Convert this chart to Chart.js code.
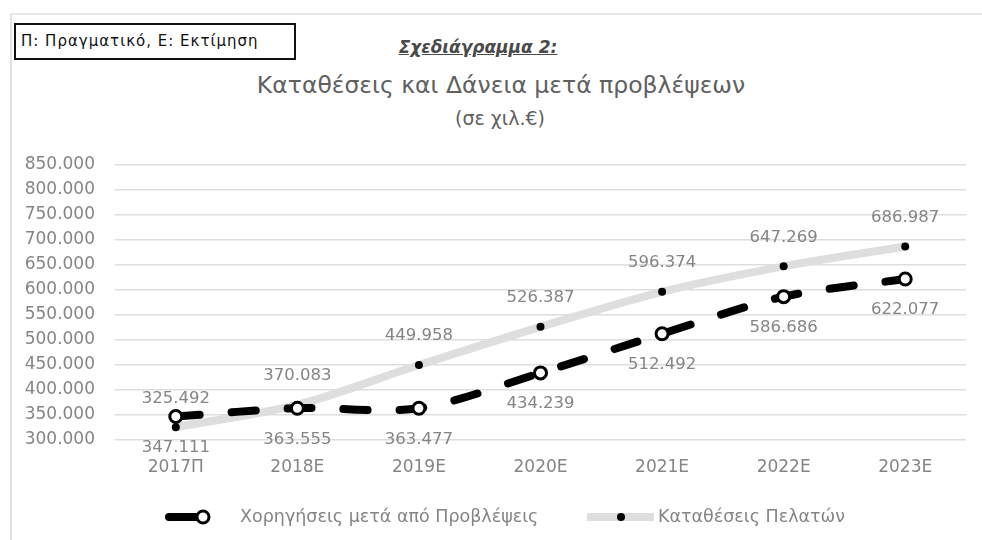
<!DOCTYPE html>
<html lang="el">
<head>
<meta charset="utf-8">
<script src="https://cdn.jsdelivr.net/npm/chart.js@4.4.1/dist/chart.umd.min.js"></script>
<style>
  html, body { margin: 0; padding: 0; background: #fff; }
  body { width: 982px; height: 540px; position: relative; overflow: hidden; font-family: "DejaVu Sans", sans-serif; }
  #frame { position: absolute; left: 10px; top: 13px; width: 1000px; height: 560px;
           border-left: 2px solid #e2e2e2; border-top: 2px solid #e8e8e8; }
  #note { position: absolute; left: 14px; top: 23px; width: 282px; height: 37px; box-sizing: border-box;
          border: 2.5px solid #111; font-size: 15px; letter-spacing: 1px; line-height: 32px;
          padding-left: 5px; color: #111; white-space: nowrap; }
  .title { position: absolute; white-space: nowrap; transform: translate(-50%, -50%); }
  #t1 { left: 478px; top: 47px; font-size: 17px; font-weight: bold; font-style: italic;
        text-decoration: underline; color: #4a4a4a; }
  #t2 { left: 501px; top: 85px; font-size: 23.5px; color: #606060; }
  #t3 { left: 500px; top: 118px; font-size: 19px; color: #606060; }
  canvas { position: absolute; left: 0; top: 0; }
</style>
</head>
<body>
<div id="frame"></div>
<div id="note">Π: Πραγματικό, Ε: Εκτίμηση</div>
<div class="title" id="t1">Σχεδιάγραμμα 2:</div>
<div class="title" id="t2">Καταθέσεις και Δάνεια μετά προβλέψεων</div>
<div class="title" id="t3">(σε χιλ.€)</div>
<canvas id="chart" width="982" height="540"></canvas>
<script>
// Έτη (Π: πραγματικό, Ε: εκτίμηση)
const years = ['2017Π', '2018Ε', '2019Ε', '2020Ε', '2021Ε', '2022Ε', '2023Ε'];

// Ποσά σε χιλ. €
const loansAfterProvisions = [347111, 363555, 363477, 434239, 512492, 586686, 622077];
const customerDeposits = [325492, 370083, 449958, 526387, 596374, 647269, 686987];

const seriesNames = ['Χορηγήσεις μετά από Προβλέψεις', 'Καταθέσεις Πελατών'];

// Άξονας y
const yMin = 300000;
const yMax = 850000;
const yStep = 50000;

const FONT = '"DejaVu Sans", sans-serif';
const GRAY_TEXT = '#858585';

// 347111 -> "347.111"
function formatEl(value) {
    return String(Math.round(value)).replace(/\B(?=(\d{3})+(?!\d))/g, '.');
}

// Ετικέτες τιμών πάνω / κάτω από κάθε σημείο
const valueLabels = {
    id: 'valueLabels',
    afterDatasetsDraw(chart) {
        const ctx = chart.ctx;
        ctx.save();
        ctx.font = '16.5px ' + FONT;
        ctx.fillStyle = GRAY_TEXT;
        ctx.textAlign = 'center';
        ctx.textBaseline = 'middle';
        chart.data.datasets.forEach((ds, i) => {
            const meta = chart.getDatasetMeta(i);
            meta.data.forEach((pt, j) => {
                const dy = ds.labelSide === 'below' ? 31 : -29;
                ctx.fillText(formatEl(ds.data[j]), pt.x, pt.y + dy);
            });
        });
        ctx.restore();
    }
};

// Υπόμνημα στο κάτω μέρος
const bottomLegend = {
    id: 'bottomLegend',
    afterDraw(chart) {
        const ctx = chart.ctx;
        const y = 517;
        const [loans, deposits] = chart.data.datasets;
        ctx.save();

        // Χορηγήσεις
        ctx.lineCap = 'round';
        ctx.strokeStyle = loans.borderColor;
        ctx.lineWidth = loans.borderWidth;
        ctx.beginPath();
        ctx.moveTo(169, y);
        ctx.lineTo(200, y);
        ctx.stroke();
        ctx.beginPath();
        ctx.arc(203, y, loans.pointRadius, 0, Math.PI * 2);
        ctx.fillStyle = loans.pointBackgroundColor;
        ctx.fill();
        ctx.lineWidth = loans.pointBorderWidth;
        ctx.strokeStyle = loans.pointBorderColor;
        ctx.stroke();

        // Καταθέσεις
        ctx.lineCap = 'butt';
        ctx.strokeStyle = deposits.borderColor;
        ctx.lineWidth = deposits.borderWidth;
        ctx.beginPath();
        ctx.moveTo(587, y);
        ctx.lineTo(654, y);
        ctx.stroke();
        ctx.beginPath();
        ctx.arc(621, y, deposits.pointRadius, 0, Math.PI * 2);
        ctx.fillStyle = deposits.pointBackgroundColor;
        ctx.fill();

        ctx.font = '17.5px ' + FONT;
        ctx.fillStyle = GRAY_TEXT;
        ctx.textBaseline = 'middle';
        ctx.textAlign = 'left';
        ctx.fillText(loans.label, 240, y);
        ctx.fillText(deposits.label, 658, y);
        ctx.restore();
    }
};

const ctx = document.getElementById('chart').getContext('2d');
window.depositsChart = new Chart(ctx, {
    type: 'line',
    data: {
        labels: years,
        datasets: [{
            label: seriesNames[0],
            data: loansAfterProvisions,
            labelSide: 'below',
            borderColor: '#000',
            borderWidth: 8,
            borderDash: [24, 32],
            borderCapStyle: 'round',
            tension: 0.3,
            pointRadius: 6,
            pointHoverRadius: 6,
            pointBackgroundColor: '#fff',
            pointBorderColor: '#000',
            pointBorderWidth: 3
        }, {
            label: seriesNames[1],
            data: customerDeposits,
            labelSide: 'above',
            borderColor: '#dedede',
            borderWidth: 8,
            tension: 0.3,
            pointRadius: 4,
            pointHoverRadius: 4,
            pointBackgroundColor: '#000',
            pointBorderColor: '#000',
            pointBorderWidth: 0
        }]
    },
    options: {
        responsive: false,
        animation: false,
        layout: {
            padding: { top: 165, left: 15, right: 16, bottom: 60 }
        },
        plugins: {
            legend: { display: false },
            tooltip: { enabled: false }
        },
        scales: {
            x: {
                offset: true,
                grid: { display: false, drawTicks: false },
                border: { display: false },
                ticks: {
                    color: GRAY_TEXT,
                    font: { family: FONT, size: 17 },
                    padding: 17,
                    maxRotation: 0
                },
                afterFit(scale) { scale.height = 40; }
            },
            y: {
                min: yMin,
                max: yMax,
                grid: { color: '#dedede', lineWidth: 1.5, drawTicks: false },
                border: { display: false },
                ticks: {
                    stepSize: yStep,
                    color: GRAY_TEXT,
                    font: { family: FONT, size: 17 },
                    padding: 20,
                    callback: value => formatEl(value)
                },
                afterFit(scale) { scale.width = 100; }
            }
        }
    },
    plugins: [valueLabels, bottomLegend]
});
</script>
</body>
</html>
